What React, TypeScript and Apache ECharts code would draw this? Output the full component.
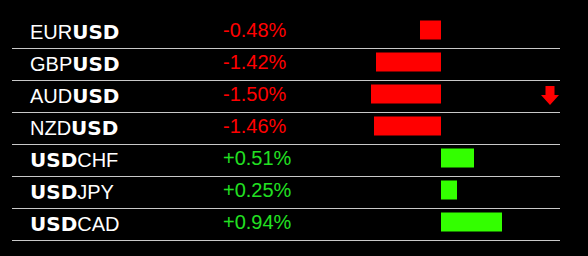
import React, { useEffect, useRef } from "react";
import * as echarts from "echarts";

const pairs = ["EURUSD", "GBPUSD", "AUDUSD", "NZDUSD", "USDCHF", "USDJPY", "USDCAD"];
const changes = [-0.48, -1.42, -1.5, -1.46, 0.51, 0.25, 0.94];
const strength = [-21, -65, -70, -67, 33, 16, 61];

const RED = "#ff0000";
const BAR_GREEN = "#33ff00";
const TEXT_GREEN = "#22e022";

function fmtPair(p: string) {
  if (p.startsWith("USD")) return `{b|USD}{n|${p.slice(3)}}`;
  return `{n|${p.slice(0, 3)}}{b|USD}`;
}

function fmtPct(v: number) {
  const s = (v > 0 ? "+" : "") + v.toFixed(2) + "%";
  return v < 0 ? `{neg|${s}}` : `{pos|${s}}`;
}

export default function App() {
  const ref = useRef<HTMLDivElement>(null);
  useEffect(() => {
    if (!ref.current) return;
    const chart = echarts.init(ref.current, undefined, { renderer: "svg" });
    chart.setOption({
      animation: false,
      backgroundColor: "#000000",
      grid: [
        { left: 12, right: 28, top: 16, bottom: 16 },
        { left: 300, right: 28, top: 14, bottom: 18 },
      ],
      xAxis: [
        { type: "value", gridIndex: 0, min: 0, max: 1, show: false },
        { type: "value", gridIndex: 1, min: -141, max: 119, show: false },
      ],
      yAxis: [
        {
          type: "category",
          gridIndex: 0,
          inverse: true,
          data: pairs,
          axisLine: { show: false },
          axisTick: { show: false },
          splitLine: {
            show: true,
            showMinLine: false,
            lineStyle: { color: "#c8c8c8", width: 1 },
          },
          axisLabel: {
            inside: true,
            margin: 18,
            formatter: (v: string) => fmtPair(v),
            rich: {
              n: { fontFamily: "Liberation Sans", fontSize: 20, color: "#ffffff" },
              b: { fontFamily: "DejaVu Sans", fontWeight: "bold", fontSize: 20, color: "#ffffff" },
            },
          },
        },
        {
          type: "category",
          gridIndex: 1,
          inverse: true,
          data: changes.map((c) => fmtPct(c)),
          axisLine: { show: false },
          axisTick: { show: false },
          splitLine: { show: false },
          axisLabel: {
            margin: 77,
            align: "left",
            rich: {
              neg: { fontFamily: "Liberation Sans", fontSize: 20, color: RED },
              pos: { fontFamily: "Liberation Sans", fontSize: 20, color: TEXT_GREEN },
            },
          },
        },
      ],
      series: [
        {
          type: "bar",
          xAxisIndex: 1,
          yAxisIndex: 1,
          barWidth: 19,
          data: strength.map((v) => ({
            value: v,
            itemStyle: { color: v < 0 ? RED : BAR_GREEN },
          })),
        },
      ],
      graphic: [
        {
          type: "polygon",
          shape: {
            points: [
              [545.5, 86],
              [554.5, 86],
              [554.5, 95],
              [559, 95],
              [550, 105],
              [541, 95],
              [545.5, 95],
            ],
          },
          style: { fill: RED },
        },
      ],
    });
    return () => chart.dispose();
  }, []);
  return (
    <div
      ref={ref}
      style={{ position: "fixed", left: 0, top: 0, width: 588, height: 256, background: "#000" }}
    />
  );
}
